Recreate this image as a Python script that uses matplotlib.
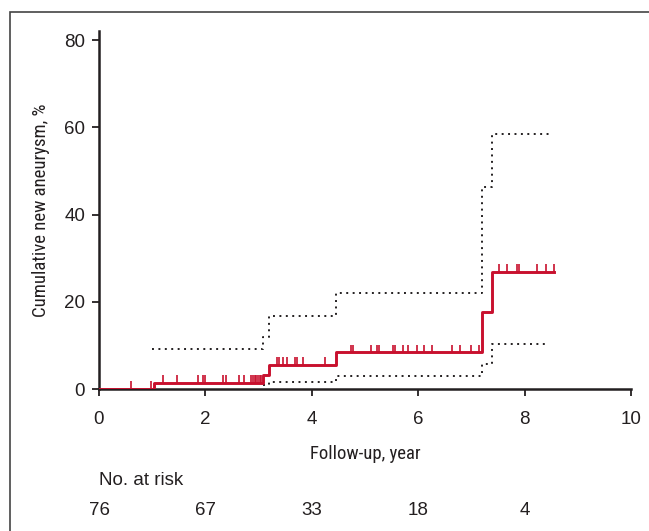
import numpy as np
import matplotlib.pyplot as plt
from matplotlib.patches import Rectangle

# Kaplan-Meier style cumulative incidence
km_t = [0, 1.03, 3.08, 3.2, 4.45, 7.2, 7.38, 8.55]
km_y = [0, 1.3, 3.2, 5.5, 8.4, 17.7, 26.9, 26.9]

up_t = [1.0, 3.08, 3.2, 4.45, 7.2, 7.38, 8.49]
up_y = [9.2, 12.0, 16.8, 22.1, 46.4, 58.4, 58.4]

lo_t = [3.08, 3.2, 4.45, 7.2, 7.38, 8.44]
lo_y = [0.9, 1.7, 3.0, 5.7, 10.3, 10.3]

censor_t = [0.60, 0.98, 1.20, 1.46, 1.86, 1.95, 1.99, 2.33, 2.38, 2.63, 2.73,
            2.86, 2.90, 2.93, 2.96, 2.99, 3.02, 3.05, 3.34, 3.38, 3.45, 3.53,
            3.68, 3.73, 3.83, 4.25, 4.73, 4.78, 5.11, 5.23, 5.27, 5.52, 5.56,
            5.72, 5.81, 5.98, 6.11, 6.25, 6.64, 6.79, 6.99, 7.14, 7.52, 7.66,
            7.86, 7.89, 8.23, 8.40, 8.55]

risk_t = [0, 2, 4, 6, 8]
risk_n = ['76', '67', '33', '18', '4']

red = '#c8102e'
dark = '#231f20'
fam = ['Liberation Sans', 'DejaVu Sans']
narrow = ['Roboto Condensed', 'Archivo Narrow', 'Liberation Sans', 'DejaVu Sans']

fig = plt.figure(figsize=(6.49, 5.31), dpi=100)
W, H = 649, 531
ax = fig.add_axes([99 / W, 1 - 389 / H, 532 / W, (389 - 31.3) / H])

ax.step(up_t, up_y, where='post', color=dark, lw=1.4, ls=(0, (1, 2.3)))
ax.step(lo_t, lo_y, where='post', color=dark, lw=1.4, ls=(0, (1, 2.3)))
ax.step(km_t, km_y, where='post', color=red, lw=2.1, zorder=5)

idx = np.searchsorted(km_t, censor_t, side='right') - 1
cy = np.array(km_y)[idx]
ax.vlines(censor_t, cy, cy + 1.8, color=red, lw=1.2, zorder=5)

ax.set_xlim(0, 10)
ax.set_ylim(0, 82)
ax.set_xticks(range(0, 11, 2))
ax.set_yticks(range(0, 81, 20))
for s in ['top', 'right']:
    ax.spines[s].set_visible(False)
for s in ['left', 'bottom']:
    ax.spines[s].set_linewidth(1.8)
    ax.spines[s].set_color(dark)
ax.tick_params(direction='out', length=5, width=1.3, color=dark,
               labelsize=13.5, labelcolor=dark)
for lb in ax.get_xticklabels() + ax.get_yticklabels():
    lb.set_family(fam)
ax.tick_params(axis='x', pad=11)
ax.tick_params(axis='y', pad=5)

ax.set_xlabel('Follow-up, year', family=narrow, fontsize=13.5, color=dark, labelpad=12)
ax.set_ylabel('Cumulative new aneurysm, %', family=narrow, fontsize=13.5, color=dark, labelpad=10)

tr = ax.get_xaxis_transform()
ax.text(0, -0.255, 'No. at risk', transform=tr, ha='left', va='center',
        family=fam, fontsize=13.5, color=dark)
for t, n in zip(risk_t, risk_n):
    ax.text(t, -0.34, n, transform=tr, ha='center', va='center',
            family=fam, fontsize=13.5, color=dark)

fig.patches.append(Rectangle((10 / W, -0.1), 1.2, 1 - 12 / H + 0.1,
                             transform=fig.transFigure, fill=False,
                             edgecolor='#444444', lw=1.2))

fig.savefig('out.png', dpi=100)
